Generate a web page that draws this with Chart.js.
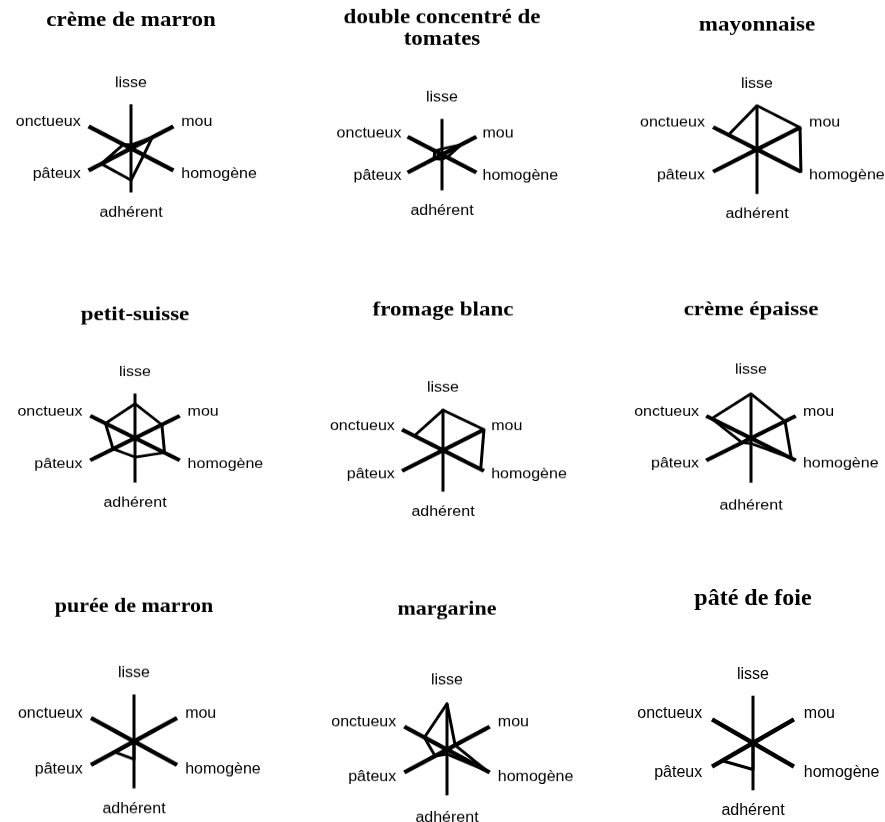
<!DOCTYPE html>
<html>
<head>
<meta charset="utf-8">
<script src="https://cdn.jsdelivr.net/npm/chart.js@4/dist/chart.umd.min.js"></script>
<style>
  html, body { margin: 0; padding: 0; background: #fff; }
  #page { position: relative; width: 885px; height: 822px; overflow: hidden; background: #fff; }
  .cell { position: absolute; transform-origin: 0 0; }
</style>
</head>
<body>
<div id="page"></div>
<script>
// ---------- data ----------
const axes = ['lisse', 'mou', 'homogène', 'adhérent', 'pâteux', 'onctueux'];

const titles = [
  'crème de marron',
  ['double concentré de', 'tomates'],
  'mayonnaise',
  'petit-suisse',
  'fromage blanc',
  'crème épaisse',
  'purée de marron',
  'margarine',
  'pâté de foie'
];

// values on a 0–10 scale, order: lisse, mou, homogène, adhérent, pâteux, onctueux
const cremeDeMarron   = [0.8, 5.0, 3.0, 7.2, 7.0, 1.8];
const doubleConcentre = [1.6, 5.6, 1.5, 1.3, 2.3, 2.1];
const mayonnaise      = [9.8, 9.8, 10, 0, 0, 6.5];
const petitSuisse     = [7.7, 6.0, 6.6, 4.3, 4.9, 6.6];
const fromageBlanc    = [9.7, 10, 9.2, 0, 0, 7.0];
const cremeEpaisse    = [10, 7.6, 9.0, 1.2, 2.0, 8.8];
const pureeDeMarron   = [0, 0, 0, 3.8, 4.5, 0];
const margarine       = [10, 1.9, 9.5, 1.0, 2.8, 5.3];
const pateDeFoie      = [0, 0, 0, 5.6, 7.5, 0];

const series = [cremeDeMarron, doubleConcentre, mayonnaise, petitSuisse, fromageBlanc,
                cremeEpaisse, pureeDeMarron, margarine, pateDeFoie];

const scaleMin = 0;
const scaleMax = 10;

// ---------- layout (page pixels) ----------
const centerX   = [130.7, 442.3, 756.7, 135.3, 443.3, 751.0, 133.7, 447.0, 752.7];
const centerY   = [148.3, 155.7, 150.0, 439.3, 450.7, 438.7, 741.7, 750.0, 743.3];
const radius    = [49.0, 39.7, 50.7, 51.7, 47.3, 51.7, 49.7, 49.3, 47.3];
const squash    = [0.90, 0.90, 0.88, 0.86, 0.875, 0.86, 0.945, 0.93, 1.0];
const labelDist = [65.0, 56.4, 64.7, 65.0, 61.9, 68.0, 68.4, 68.4, 68.3];
const sidePad   = [11.3, 8.8, 11.8, 11.3, 10.4, 10.3, 11.7, 11.7, 14.2];
const titleY    = [20.7, 18.3, 25.0, 315.0, 310.5, 309.5, 606.0, 609.3, 598.3];
const titleSize = [23, 23, 23, 23, 23, 23, 22, 22, 24];
const titleLH   = [1.2, 1.05, 1.2, 1.2, 1.2, 1.2, 1.2, 1.2, 1.2];

const CANVAS_W = 340;
const BOTTOM_PAD = 30;
const LABEL_SIZE = 16;
const SIDE_PAD_FACTOR = 0.8;

const page = document.getElementById('page');

series.forEach((values, i) => {
  const s = squash[i];
  const R = radius[i];
  const padV0 = labelDist[i] / s - R;
  const R0 = Math.round(R + padV0);
  const padV = R0 - R;
  const lines = Array.isArray(titles[i]) ? titles[i].length : 1;
  const lht = titleSize[i] * titleLH[i];
  const pbRaw = (centerY[i] - titleY[i]) / s - (lines - 0.5) * lht - R0;
  const titleH = Math.round(lines * lht + pbRaw);
  const pb = titleH - lines * lht;
  const H = titleH + 2 * R0 + BOTTOM_PAD;

  const cell = document.createElement('div');
  cell.className = 'cell';
  cell.style.left = (centerX[i] - CANVAS_W / 2) + 'px';
  cell.style.top = (titleY[i] - s * lht / 2) + 'px';
  cell.style.width = CANVAS_W + 'px';
  cell.style.height = H + 'px';
  cell.style.transform = 'scaleY(' + s + ')';
  const cv = document.createElement('canvas');
  cv.width = CANVAS_W;
  cv.height = H;
  cv.style.width = CANVAS_W + 'px';
  cv.style.height = H + 'px';
  cell.appendChild(cv);
  page.appendChild(cell);

  new Chart(cv, {
    type: 'radar',
    data: {
      labels: axes,
      datasets: [{
        data: values,
        borderColor: '#000',
        backgroundColor: 'rgba(0,0,0,0)',
        fill: false,
        borderWidth: 3,
        borderJoinStyle: 'round',
        pointRadius: 0,
        pointHoverRadius: 0,
        tension: 0
      }]
    },
    options: {
      responsive: false,
      animation: false,
      devicePixelRatio: 1,
      layout: { padding: { top: 0, left: 0, right: 0, bottom: BOTTOM_PAD } },
      plugins: {
        legend: { display: false },
        tooltip: { enabled: false },
        title: {
          display: true,
          text: titles[i],
          color: '#000',
          font: { family: 'Liberation Serif', weight: 'bold', size: titleSize[i], lineHeight: titleLH[i] },
          padding: { top: 0, bottom: pb }
        }
      },
      scales: {
        r: {
          min: scaleMin,
          max: scaleMax,
          ticks: { display: false },
          grid: { display: false },
          angleLines: {
            display: true,
            color: '#000',
            lineWidth: (ctx) => (ctx.index === 0 || ctx.index === 3) ? 3 : 4.5
          },
          pointLabels: {
            display: true,
            color: '#000',
            font: { family: 'Liberation Sans', size: LABEL_SIZE, lineHeight: '0px' },
            padding: (ctx) => (ctx.index === 0 || ctx.index === 3) ? padV : sidePad[i] * SIDE_PAD_FACTOR
          }
        }
      }
    }
  });
});
</script>
</body>
</html>
